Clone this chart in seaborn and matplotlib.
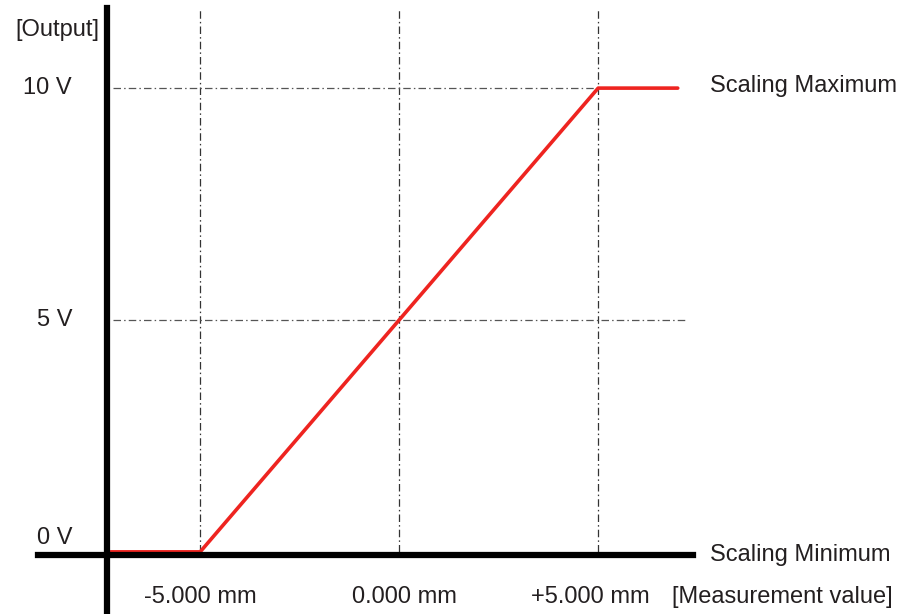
import matplotlib
matplotlib.use("Agg")
import matplotlib.pyplot as plt
import seaborn as sns
import pandas as pd

# transfer curve: measurement value (mm) -> analog output (V)
measurement = [-7.25, -5.0, 5.0, 7.0]
output = [0.0, 0.0, 10.0, 10.0]

x_ticks = [-5.0, 0.0, 5.0]
x_labels = ["-5.000 mm", "0.000 mm", "+5.000 mm"]
y_ticks = [0.0, 5.0, 10.0]
y_labels = ["0 V", "5 V", "10 V"]

df = pd.DataFrame({"mm": measurement, "V": output})

sns.set_style("white")
plt.rcParams["font.family"] = ["Liberation Sans", "DejaVu Sans"]

fig = plt.figure(figsize=(9.01, 6.14), dpi=100)
ax = fig.add_axes([0, 0, 1, 1])
ax.set_xlim(-10.03, 12.61)
ax.set_ylim(-1.34, 11.9)

""" dash-dot guide lines """
dashdot = (0, (6, 2.5, 1.2, 2.5))
ax.vlines(x_ticks, 0, 11.7, colors="#333333", linewidth=0.9, linestyles=[dashdot])
ax.hlines(10, -7.2, 5.0, colors="#555555", linewidth=0.9, linestyles=[dashdot])
ax.hlines(5, -7.2, 7.2, colors="#555555", linewidth=0.9, linestyles=[dashdot])

""" the output curve """
sns.lineplot(data=df, x="mm", y="V", sort=False, color="#ee2420", linewidth=2.6, ax=ax)

""" thick axes """
for s in ["top", "right"]:
    ax.spines[s].set_visible(False)
ax.spines["left"].set_position(("data", -7.33))
ax.spines["left"].set_bounds(-1.34, 11.73)
ax.spines["bottom"].set_position(("data", -0.065))
ax.spines["bottom"].set_bounds(-9.07, 7.39)
for s in ["left", "bottom"]:
    ax.spines[s].set_linewidth(4.5)
    ax.spines[s].set_color("black")
    ax.spines[s].set_zorder(5)
ax.set_xticks([])
ax.set_yticks([])
ax.set_xlabel("")
ax.set_ylabel("")

fs = 17
tc = "#231f20"
for v, lab in zip(y_ticks, y_labels):
    yy = v + 0.3 if v == 0 else v
    ax.text(-8.22, yy, lab, ha="right", va="center", fontsize=fs, color=tc)
for x, lab in zip(x_ticks, x_labels):
    xx = x + 0.13 if x == 0 else (x - 0.2 if x > 0 else x)
    ax.text(xx, -0.97, lab, ha="center", va="center", fontsize=fs, color=tc)

ax.text(-8.6, 11.25, "[Output]", ha="center", va="center", fontsize=fs, color=tc)
ax.text(6.86, -0.97, "[Measurement value]", ha="left", va="center", fontsize=fs, color=tc)
ax.text(7.81, -0.065, "Scaling Minimum", ha="left", va="center", fontsize=fs, color=tc)
ax.text(7.81, 10.04, "Scaling Maximum", ha="left", va="center", fontsize=fs, color=tc)

fig.savefig("out.png", dpi=100)
